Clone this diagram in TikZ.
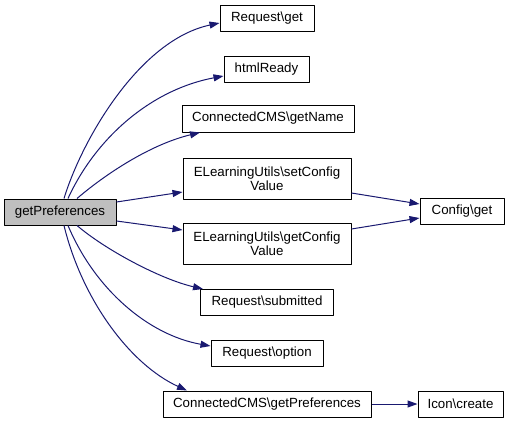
\documentclass[tikz,border=0pt]{standalone}
\usepackage{fontspec}
\setmainfont{Liberation Sans}
\usetikzlibrary{arrows.meta}
\definecolor{edgeblue}{HTML}{191970}
\definecolor{rootgray}{HTML}{BFBFBF}
\newcommand{\bsl}{\textbackslash{}}
\begin{document}
\begin{tikzpicture}[x=1pt, y=-1pt, line join = round,
  fn/.style={draw=black, line width=1pt, minimum height=26pt, inner sep=0pt,
    font=\fontsize{13.3}{14.5}\selectfont, align=center},
  call/.style={draw=edgeblue, line width=1pt, -{Triangle[length=10pt,width=7pt]}}]
\useasboundingbox (0,0) rectangle (511,423);

\node[fn, fill=rootgray, minimum width=112pt] (root) at (60,212) {getPreferences};

\node[fn, minimum width=94pt] (reqget) at (267,18) {Request\bsl get};
\node[fn, minimum width=85pt] (html) at (266.5,69) {htmlReady};
\node[fn, minimum width=172pt, minimum height=27pt] (getname) at (268,118.5) {ConnectedCMS\bsl getName};
\node[fn, minimum width=168pt, minimum height=41pt] (setcfg) at (267,178.5) {ELearningUtils\bsl setConfig\\Value};
\node[fn, minimum width=168pt, minimum height=41pt] (getcfg) at (267,243.5) {ELearningUtils\bsl getConfig\\Value};
\node[fn, minimum width=133pt] (submitted) at (267,302.5) {Request\bsl submitted};
\node[fn, minimum width=112pt] (option) at (267,353) {Request\bsl option};
\node[fn, minimum width=208pt] (cmsprefs) at (267,404) {ConnectedCMS\bsl getPreferences};

\node[fn, minimum width=84pt] (cfgget) at (462,211.5) {Config\bsl get};
\node[fn, minimum width=85pt] (icon) at (460.5,404) {Icon\bsl create};

% calls from getPreferences
\draw[call] ([xshift=4pt]root.north) .. controls +(18,-59) and +(-80,17) .. ([yshift=-5pt]reqget.west);
\draw[call] ([xshift=8pt]root.north) .. controls +(27,-59) and +(-74,14) .. ([yshift=-7pt]html.west);
\draw[call] ([xshift=17pt]root.north) .. controls +(28,-24) and +(-50,12) .. ([xshift=-68pt]getname.south);
\draw[call] ([yshift=10pt]root.east) -- ([yshift=-13.5pt]setcfg.west);
\draw[call] ([yshift=-9pt]root.east) -- ([yshift=13.5pt]getcfg.west);
\draw[call] ([xshift=17pt]root.south) .. controls +(28,24) and +(-43,-10) .. ([xshift=-64pt]submitted.north);
\draw[call] ([xshift=8pt]root.south) .. controls +(27,64) and +(-62,-11) .. ([yshift=7pt]option.west);
\draw[call] ([xshift=4pt]root.south) .. controls +(18,74) and +(-57,-26) .. ([xshift=-80pt]cmsprefs.north);

% second level
\draw[call] ([yshift=-14.5pt]setcfg.east) -- ([yshift=7.5pt]cfgget.west);
\draw[call] ([yshift=14.5pt]getcfg.east) -- ([yshift=-6.5pt]cfgget.west);
\draw[call] (cmsprefs) -- (icon);
\end{tikzpicture}
\end{document}
